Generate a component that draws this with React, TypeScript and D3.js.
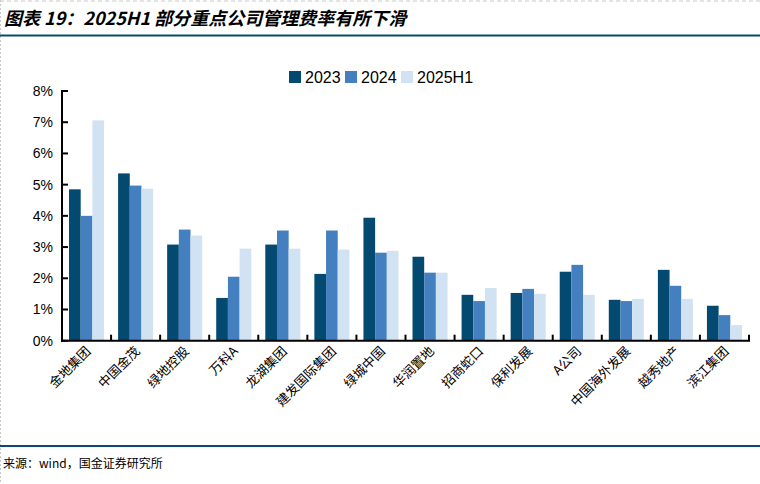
import React from "react";
import * as d3 from "d3";

const categories = ["金地集团", "中国金茂", "绿地控股", "万科A", "龙湖集团", "建发国际集团", "绿城中国", "华润置地", "招商蛇口", "保利发展", "A公司", "中国海外发展", "越秀地产", "滨江集团"];
const seriesNames = ["2023", "2024", "2025H1"];
const values2023 = [4.85, 5.36, 3.08, 1.37, 3.08, 2.14, 3.94, 2.69, 1.47, 1.53, 2.21, 1.31, 2.27, 1.12];
const values2024 = [4.0, 4.97, 3.56, 2.05, 3.53, 3.53, 2.82, 2.18, 1.27, 1.66, 2.43, 1.27, 1.76, 0.82];
const values2025H1 = [7.06, 4.87, 3.37, 2.95, 2.95, 2.92, 2.88, 2.18, 1.69, 1.5, 1.47, 1.34, 1.34, 0.5];
const yTicks = [0, 1, 2, 3, 4, 5, 6, 7, 8];
const colors = ["#044a70", "#4480bf", "#d1e3f3"];
const title = "图表 19：2025H1 部分重点公司管理费率有所下滑";
const source = "来源：wind，国金证券研究所";

export default function App() {
  const W = 760, H = 484;
  const left = 62, right = 749, top = 91, bottom = 340.7;
  const x0 = d3.scaleBand<string>().domain(categories).range([left, right]).paddingInner(0).paddingOuter(0);
  const x1 = d3.scaleBand<string>().domain(seriesNames).range([0, x0.bandwidth()]).paddingInner(0).paddingOuter(0.6);
  const y = d3.scaleLinear().domain([0, 8]).range([bottom, top]);
  const data = [values2023, values2024, values2025H1];
  const cjk = '"Noto Sans CJK SC", sans-serif';
  const latin = '"Liberation Sans", Arial, sans-serif';

  const boundaries = categories.map((c) => x0(c)!).concat([right]);

  return (
    <svg width={W} height={H} style={{ position: "absolute", left: 0, top: 0, background: "#fff" }}>
      <rect x={0} y={0} width={W} height={H} fill="#fff" />
      <line x1={0} y1={1} x2={W} y2={1} stroke="#c8c8c8" strokeWidth={1} strokeDasharray="4,3" />
      <line x1={0.5} y1={0} x2={0.5} y2={H} stroke="#c8c8c8" strokeWidth={1} strokeDasharray="2,2" />
      <text x={4} y={25} fontFamily={cjk} fontSize={18} fontWeight="bold" fontStyle="italic" fill="#000">{title}</text>
      <line x1={0} y1={35.5} x2={W} y2={35.5} stroke="#0b4a6e" strokeWidth={2} />

      {/* legend */}
      {seriesNames.map((s, i) => {
        const lx = [289, 345, 401][i];
        return (
          <g key={s}>
            <rect x={lx} y={71} width={12} height={12} fill={colors[i]} />
            <text x={lx + 16} y={83} fontFamily={latin} fontSize={16} fill="#000">{s}</text>
          </g>
        );
      })}

      {/* bars */}
      {categories.map((c, ci) => (
        <g key={c} transform={`translate(${x0(c)},0)`}>
          {seriesNames.map((s, si) => (
            <rect key={s} x={x1(s)} y={y(data[si][ci])} width={x1.bandwidth()} height={bottom - y(data[si][ci])} fill={colors[si]} />
          ))}
        </g>
      ))}

      {/* y axis */}
      <line x1={left} y1={top - 1} x2={left} y2={bottom + 1} stroke="#000" strokeWidth={2} />
      {yTicks.map((t) => (
        <g key={t}>
          <line x1={left} x2={left + 6} y1={y(t)} y2={y(t)} stroke="#000" strokeWidth={2} />
          <text x={53} y={y(t) + 5} textAnchor="end" fontFamily={latin} fontSize={14} fill="#000">{t}%</text>
        </g>
      ))}

      {/* x axis */}
      <line x1={left - 1} y1={bottom} x2={right + 1} y2={bottom} stroke="#000" strokeWidth={2} />
      {boundaries.map((bx, i) => (
        <line key={i} x1={bx} x2={bx} y1={bottom} y2={bottom - 6} stroke="#000" strokeWidth={2} />
      ))}
      {categories.map((c) => {
        const cx = x0(c)! + x0.bandwidth() / 2 + 5;
        return (
          <text key={c} transform={`translate(${cx},352) rotate(-45)`} textAnchor="end" fontFamily={cjk} fontSize={13} fill="#000">{c}</text>
        );
      })}

      <line x1={0} y1={446} x2={W} y2={446} stroke="#0b4a6e" strokeWidth={2} />
      <text x={3} y={468} fontFamily={cjk} fontSize={12} fill="#000">{source}</text>
    </svg>
  );
}
